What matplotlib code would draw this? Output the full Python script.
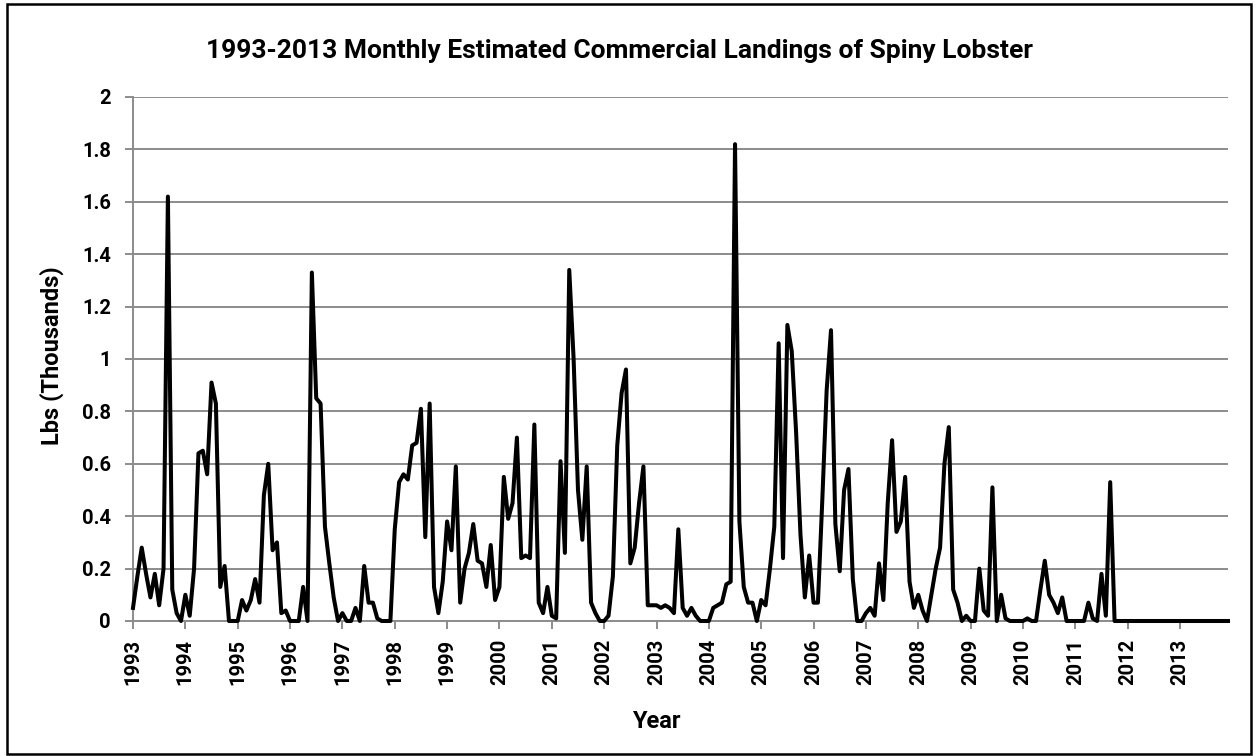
import matplotlib
matplotlib.use("Agg")
import matplotlib.pyplot as plt
from matplotlib.patches import Rectangle

# years on the axis, one row of 12 monthly values (thousands of lbs) per year
years = list(range(1993, 2014))

landings = [
    [0.05, 0.17, 0.28, 0.18, 0.09, 0.18, 0.06, 0.20, 1.62, 0.12, 0.03, 0.00],  # 1993
    [0.10, 0.02, 0.20, 0.64, 0.65, 0.56, 0.91, 0.83, 0.13, 0.21, 0.00, 0.00],  # 1994
    [0.00, 0.08, 0.04, 0.08, 0.16, 0.07, 0.48, 0.60, 0.27, 0.30, 0.03, 0.04],  # 1995
    [0.00, 0.00, 0.00, 0.13, 0.00, 1.33, 0.85, 0.83, 0.36, 0.22, 0.09, 0.00],  # 1996
    [0.03, 0.00, 0.00, 0.05, 0.00, 0.21, 0.07, 0.07, 0.01, 0.00, 0.00, 0.00],  # 1997
    [0.35, 0.53, 0.56, 0.54, 0.67, 0.68, 0.81, 0.32, 0.83, 0.13, 0.03, 0.15],  # 1998
    [0.38, 0.27, 0.59, 0.07, 0.20, 0.26, 0.37, 0.23, 0.22, 0.13, 0.29, 0.08],  # 1999
    [0.13, 0.55, 0.39, 0.45, 0.70, 0.24, 0.25, 0.24, 0.75, 0.07, 0.03, 0.13],  # 2000
    [0.02, 0.01, 0.61, 0.26, 1.34, 1.00, 0.50, 0.31, 0.59, 0.07, 0.03, 0.00],  # 2001
    [0.00, 0.02, 0.17, 0.67, 0.87, 0.96, 0.22, 0.28, 0.45, 0.59, 0.06, 0.06],  # 2002
    [0.06, 0.05, 0.06, 0.05, 0.03, 0.35, 0.05, 0.02, 0.05, 0.02, 0.00, 0.00],  # 2003
    [0.00, 0.05, 0.06, 0.07, 0.14, 0.15, 1.82, 0.38, 0.13, 0.07, 0.07, 0.00],  # 2004
    [0.08, 0.06, 0.20, 0.36, 1.06, 0.24, 1.13, 1.03, 0.72, 0.33, 0.09, 0.25],  # 2005
    [0.07, 0.07, 0.46, 0.88, 1.11, 0.37, 0.19, 0.50, 0.58, 0.16, 0.00, 0.00],  # 2006
    [0.03, 0.05, 0.02, 0.22, 0.08, 0.45, 0.69, 0.34, 0.38, 0.55, 0.15, 0.05],  # 2007
    [0.10, 0.04, 0.00, 0.10, 0.20, 0.28, 0.60, 0.74, 0.12, 0.07, 0.00, 0.02],  # 2008
    [0.00, 0.00, 0.20, 0.04, 0.02, 0.51, 0.00, 0.10, 0.01, 0.00, 0.00, 0.00],  # 2009
    [0.00, 0.01, 0.00, 0.00, 0.12, 0.23, 0.10, 0.07, 0.03, 0.09, 0.00, 0.00],  # 2010
    [0.00, 0.00, 0.00, 0.07, 0.01, 0.00, 0.18, 0.02, 0.53, 0.00, 0.00, 0.00],  # 2011
    [0.00, 0.00, 0.00, 0.00, 0.00, 0.00, 0.00, 0.00, 0.00, 0.00, 0.00, 0.00],  # 2012
    [0.00, 0.00, 0.00, 0.00, 0.00, 0.00, 0.00, 0.00, 0.00, 0.00, 0.00, 0.00],  # 2013
]

y_ticks = [0, 0.2, 0.4, 0.6, 0.8, 1, 1.2, 1.4, 1.6, 1.8, 2]
y_tick_labels = ["0", "0.2", "0.4", "0.6", "0.8", "1", "1.2", "1.4", "1.6", "1.8", "2"]

plt.rcParams['font.family'] = ['Roboto', 'DejaVu Sans']
plt.rcParams['font.weight'] = 'bold'

W, H = 1257, 756
values = [v for row in landings for v in row]
months = list(range(len(values)))

fig = plt.figure(figsize=(W / 100, H / 100), dpi=100)
ax = fig.add_axes([133 / W, 1 - 621 / H, (1228 - 133) / W, (621 - 97) / H])

grid_color = '#8c8c8c'
ax.set_axisbelow(True)
ax.yaxis.grid(True, color=grid_color, linewidth=1.4)
ax.plot(months, values, color='black', linewidth=2.9, solid_joinstyle='round',
        clip_on=False, zorder=3)

ax.set_xlim(0, len(values) - 1)
ax.set_ylim(0, 2)
ax.set_yticks(y_ticks)
ax.set_yticklabels(y_tick_labels)
ax.set_xticks([12 * i for i in range(len(years))])
ax.set_xticklabels([str(y) for y in years], rotation=90)

for side in ['top', 'right']:
    ax.spines[side].set_visible(False)
for side in ['left', 'bottom']:
    ax.spines[side].set_color(grid_color)
    ax.spines[side].set_linewidth(1.4)

ax.tick_params(axis='x', colors=grid_color, length=6, width=1.4, direction='out',
               labelcolor='black', labelsize=14.5, pad=7)
ax.tick_params(axis='y', colors=grid_color, length=6, width=1.4, direction='out',
               labelcolor='black', labelsize=14.5, pad=10)

fig.text(620 / W, 1 - 58 / H,
         '1993-2013 Monthly Estimated Commercial Landings of Spiny Lobster',
         fontsize=19, fontweight='bold', ha='center', va='baseline')
fig.text(52 / W, 1 - 356 / H, 'Lbs (Thousands)', fontsize=17, fontweight='bold',
         rotation=90, ha='center', va='center')
fig.text(656 / W, 1 - 721 / H, 'Year', fontsize=17, fontweight='bold',
         ha='center', va='center')

# outer chart frame
fig.patches.append(Rectangle((7 / W, 2 / H), (1251 - 7) / W, (752 - 2) / H,
                             transform=fig.transFigure, fill=False,
                             edgecolor='black', linewidth=1.8))

fig.savefig('out.png', dpi=100)
